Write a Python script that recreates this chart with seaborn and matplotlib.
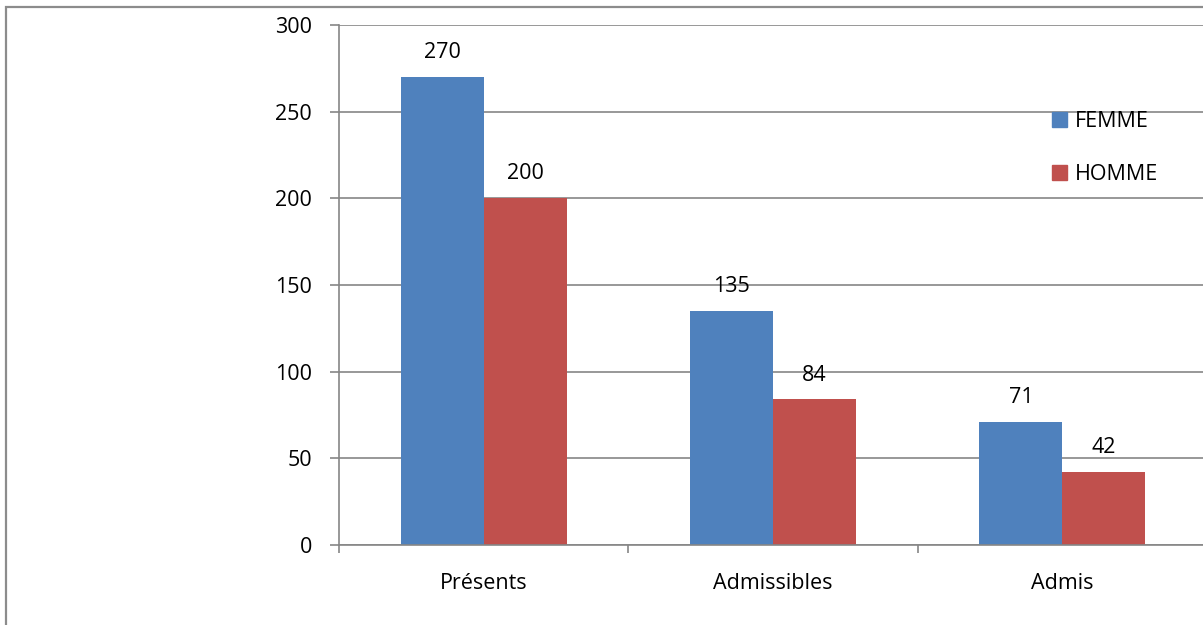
import matplotlib
matplotlib.use("Agg")
import matplotlib.pyplot as plt
from matplotlib.patches import Rectangle
import seaborn as sns
import pandas as pd

categories = ["Présents", "Admissibles", "Admis"]
femme = [270, 135, 71]
homme = [200, 84, 42]
series = ["FEMME", "HOMME"]
colors = ["#4F81BD", "#C0504D"]
y_ticks = [0, 50, 100, 150, 200, 250, 300]

df = pd.DataFrame({
    "categorie": categories * 2,
    "sexe": [series[0]] * 3 + [series[1]] * 3,
    "valeur": femme + homme,
})

sns.set_style("white")
plt.rcParams["font.family"] = ["Open Sans", "DejaVu Sans"]
plt.rcParams["text.color"] = "black"
plt.rcParams["xtick.color"] = "black"
plt.rcParams["ytick.color"] = "black"

FS = 15.5
W, H = 1203, 625
fig = plt.figure(figsize=(W / 100, H / 100), dpi=100)
ax = fig.add_axes([339 / W, 1 - 545 / H, (1207 - 339) / W, (545 - 25) / H])

sns.barplot(data=df, x="categorie", y="valeur", hue="sexe", order=categories,
            hue_order=series, palette=colors, width=0.574, gap=0,
            saturation=1, ax=ax, legend=False, errorbar=None, linewidth=0)

grid_col = "#868686"
ax.set_xlim(-0.5, 2.5)
ax.set_ylim(0, 300)
ax.set_yticks(y_ticks)
ax.yaxis.grid(True, color=grid_col, linewidth=1.2)
ax.set_axisbelow(True)
for side in ["top", "right"]:
    ax.spines[side].set_visible(False)
for side in ["left", "bottom"]:
    ax.spines[side].set_color(grid_col)
    ax.spines[side].set_linewidth(1.2)

# category boundaries carry the tick marks, centres carry the labels
ax.set_xticks([-0.5, 0.5, 1.5, 2.5])
ax.set_xticklabels([])
ax.set_xticks([0, 1, 2], minor=True)
ax.set_xticklabels(categories, minor=True)
ax.tick_params(axis="x", which="major", bottom=True, length=6, width=1.2,
               color=grid_col, direction="out")
ax.tick_params(axis="x", which="minor", bottom=True, length=0, pad=20,
               labelsize=FS, labelcolor="black")
ax.tick_params(axis="y", left=True, length=6.5, width=1.2, color=grid_col,
               direction="out", pad=13, labelsize=FS, labelcolor="black")
ax.set_xlabel("")
ax.set_ylabel("")

for cont in ax.containers:
    ax.bar_label(cont, fmt="%d", padding=10, fontsize=FS, color="black")

handles = [Rectangle((0, 0), 1, 1, color=c) for c in colors]
leg = ax.legend(handles, series, loc="upper left",
                bbox_to_anchor=((1052 - 339) / (1207 - 339), (545 - 111) / 520),
                frameon=False, fontsize=FS, handlelength=0.68, handleheight=0.68,
                handletextpad=0.4, labelspacing=1.5, borderaxespad=0, borderpad=0)

fig.patches.append(Rectangle((6 / W, -0.2), 1.2, 1.2 - 7 / H, transform=fig.transFigure,
                             fill=False, edgecolor="#8c8c8c", linewidth=1.6, figure=fig))

fig.savefig("out.png", dpi=100)
